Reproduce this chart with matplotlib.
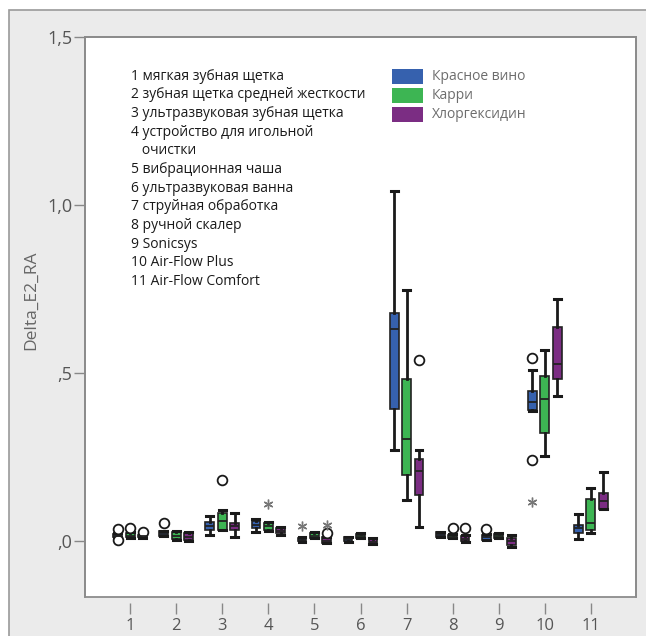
import matplotlib
matplotlib.use("Agg")
import matplotlib.pyplot as plt
from matplotlib.patches import Rectangle

plt.rcParams['font.family'] = ['Open Sans', 'DejaVu Sans']

# ---------------- data ----------------
categories = list(range(1, 12))
xtick_labels = [str(c) for c in categories]
series_names = ['Красное вино', 'Карри', 'Хлоргексидин']
series_colors = ['#3661AE', '#3DB553', '#7B2D83']

wine_whislo = [0.010, 0.013, 0.018, 0.025, -0.003, -0.003, 0.27, 0.010, 0.002, 0.385, 0.005]
wine_q1     = [0.012, 0.015, 0.031, 0.038, -0.002, -0.002, 0.392, 0.011, 0.003, 0.389, 0.023]
wine_med    = [0.015, 0.020, 0.043, 0.045, 0.003, 0.004, 0.629, 0.018, 0.010, 0.412, 0.038]
wine_q3     = [0.020, 0.028, 0.055, 0.058, 0.009, 0.011, 0.677, 0.025, 0.018, 0.447, 0.045]
wine_whishi = [0.022, 0.030, 0.073, 0.063, 0.010, 0.012, 1.04, 0.026, 0.019, 0.509, 0.078]
wine_out    = [[0.035, 0.001], [0.051], [], [], [], [], [], [], [0.035], [0.544, 0.24], []]
wine_ext    = [[], [], [], [], [0.043], [], [], [], [], [0.114], []]

curry_whislo = [0.008, 0.002, 0.031, 0.028, 0.007, 0.007, 0.12, 0.007, 0.007, 0.251, 0.023]
curry_q1     = [0.010, 0.004, 0.033, 0.033, 0.009, 0.009, 0.195, 0.008, 0.008, 0.32, 0.033]
curry_med    = [0.015, 0.015, 0.058, 0.042, 0.015, 0.014, 0.302, 0.012, 0.014, 0.422, 0.051]
curry_q3     = [0.023, 0.026, 0.081, 0.051, 0.022, 0.019, 0.482, 0.018, 0.021, 0.489, 0.125]
curry_whishi = [0.025, 0.030, 0.090, 0.055, 0.025, 0.022, 0.746, 0.019, 0.023, 0.567, 0.158]
curry_out    = [[0.038], [], [0.18], [], [], [], [], [0.038], [], [], []]
curry_ext    = [[], [], [], [0.108], [], [], [], [], [], [], []]

chlor_whislo = [0.008, 0.000, 0.010, 0.018, -0.007, -0.010, 0.04, -0.003, -0.019, 0.432, 0.093]
chlor_q1     = [0.010, 0.002, 0.031, 0.023, -0.006, -0.009, 0.135, -0.002, -0.012, 0.482, 0.093]
chlor_med    = [0.013, 0.012, 0.043, 0.030, 0.000, -0.003, 0.207, 0.006, -0.002, 0.527, 0.118]
chlor_q3     = [0.018, 0.022, 0.051, 0.038, 0.010, 0.005, 0.243, 0.015, 0.008, 0.637, 0.143]
chlor_whishi = [0.020, 0.026, 0.083, 0.041, 0.012, 0.008, 0.27, 0.018, 0.016, 0.72, 0.205]
chlor_out    = [[0.025], [], [], [], [0.022], [], [0.539], [0.038], [], [], []]
chlor_ext    = [[], [], [], [], [0.045], [], [], [], [], [], []]

method_lines = ['1 мягкая зубная щетка', '2 зубная щетка средней жесткости',
                '3 ультразвуковая зубная щетка', '4 устройство для игольной',
                '   очистки', '5 вибрационная чаша', '6 ультразвуковая ванна',
                '7 струйная обработка', '8 ручной скалер', '9 Sonicsys',
                '10 Air-Flow Plus', '11 Air-Flow Comfort']

yticks = [0.0, 0.5, 1.0, 1.5]
ytick_labels = [',0', ',5', '1,0', '1,5']
ylabel = 'Delta_E2_RA'

series = [
    (wine_whislo, wine_q1, wine_med, wine_q3, wine_whishi, wine_out, wine_ext),
    (curry_whislo, curry_q1, curry_med, curry_q3, curry_whishi, curry_out, curry_ext),
    (chlor_whislo, chlor_q1, chlor_med, chlor_q3, chlor_whishi, chlor_out, chlor_ext),
]

# ---------------- figure ----------------
W, H = 646, 636
fig = plt.figure(figsize=(W / 100, H / 100), dpi=100, facecolor='white')

def fx(x):
    return x / W

def fy(y):
    return 1 - y / H

# outer grey panel
fig.add_artist(Rectangle((fx(9), fy(700)), fx(700), fy(10) - fy(700),
                         transform=fig.transFigure, facecolor='#ebebeb',
                         edgecolor='#9a9a9a', lw=1.2, zorder=0))

ax = fig.add_axes([fx(85), fy(597), fx(636) - fx(85), fy(37) - fy(597)])
ax.set_facecolor('white')
ax.set_xlim(0.02, 11.98)
ax.set_ylim(-0.168, 1.5)

offsets = [-0.27, 0.0, 0.27]
for (wl, q1, md, q3, wh, out, ext), off, col in zip(series, offsets, series_colors):
    stats = []
    for i in range(len(categories)):
        stats.append(dict(whislo=wl[i], q1=q1[i], med=md[i], q3=q3[i],
                          whishi=wh[i], fliers=out[i]))
    pos = [c + off for c in categories]
    ax.bxp(stats, positions=pos, widths=0.19, capwidths=0.15, patch_artist=True,
           manage_ticks=False, showfliers=True,
           boxprops=dict(facecolor=col, edgecolor='#222222', linewidth=1.2),
           medianprops=dict(color='#222222', linewidth=1.3),
           whiskerprops=dict(color='#1a1a1a', linewidth=2.0),
           capprops=dict(color='#1a1a1a', linewidth=2.2),
           flierprops=dict(marker='o', markersize=7, markerfacecolor='white',
                           markeredgecolor='#1a1a1a', markeredgewidth=1.3))
    for i, c in enumerate(categories):
        if ext[i]:
            ax.plot([c + off] * len(ext[i]), ext[i], linestyle='none',
                    marker=(6, 2, 0), markersize=7, color='#777777',
                    markeredgewidth=1.0)

# spines / frame
for s in ['left', 'top', 'right']:
    ax.spines[s].set_color('#8c8c8c')
    ax.spines[s].set_linewidth(1.3)
ax.spines['bottom'].set_position(('outward', 4))
ax.spines['bottom'].set_visible(False)
ax.add_patch(Rectangle((0, 0), 1, 1, transform=ax.transAxes, fill=False,
                       edgecolor='#8c8c8c', lw=1.3, clip_on=False, zorder=5))

ax.set_xticks(categories)
ax.set_xticklabels(xtick_labels)
ax.set_yticks(yticks)
ax.set_yticklabels(ytick_labels)
ax.tick_params(axis='x', direction='out', length=8, width=1, color='#888888',
               labelsize=12, labelcolor='#555555', pad=3)
ax.tick_params(axis='y', direction='out', length=8, width=1, color='#888888',
               labelsize=13, labelcolor='#555555', pad=1)

fig.text(fx(31), fy(300), ylabel, rotation=90, ha='center', va='center',
         fontsize=12.5, color='#666666')

# methods list
for i, line in enumerate(method_lines):
    fig.text(fx(131), fy(76 + i * 18.7), line, ha='left', va='center',
             fontsize=10, color='#1a1a1a')

# legend
for i, (name, col) in enumerate(zip(series_names, series_colors)):
    top = 69 + i * 19
    fig.add_artist(Rectangle((fx(392), fy(top + 15)), fx(31), fy(top) - fy(top + 15),
                             transform=fig.transFigure, facecolor=col,
                             edgecolor='none', zorder=6))
    fig.text(fx(432), fy(top + 7.5), name, ha='left', va='center',
             fontsize=10, color='#6d6d6d')

fig.savefig('out.png', dpi=100)
